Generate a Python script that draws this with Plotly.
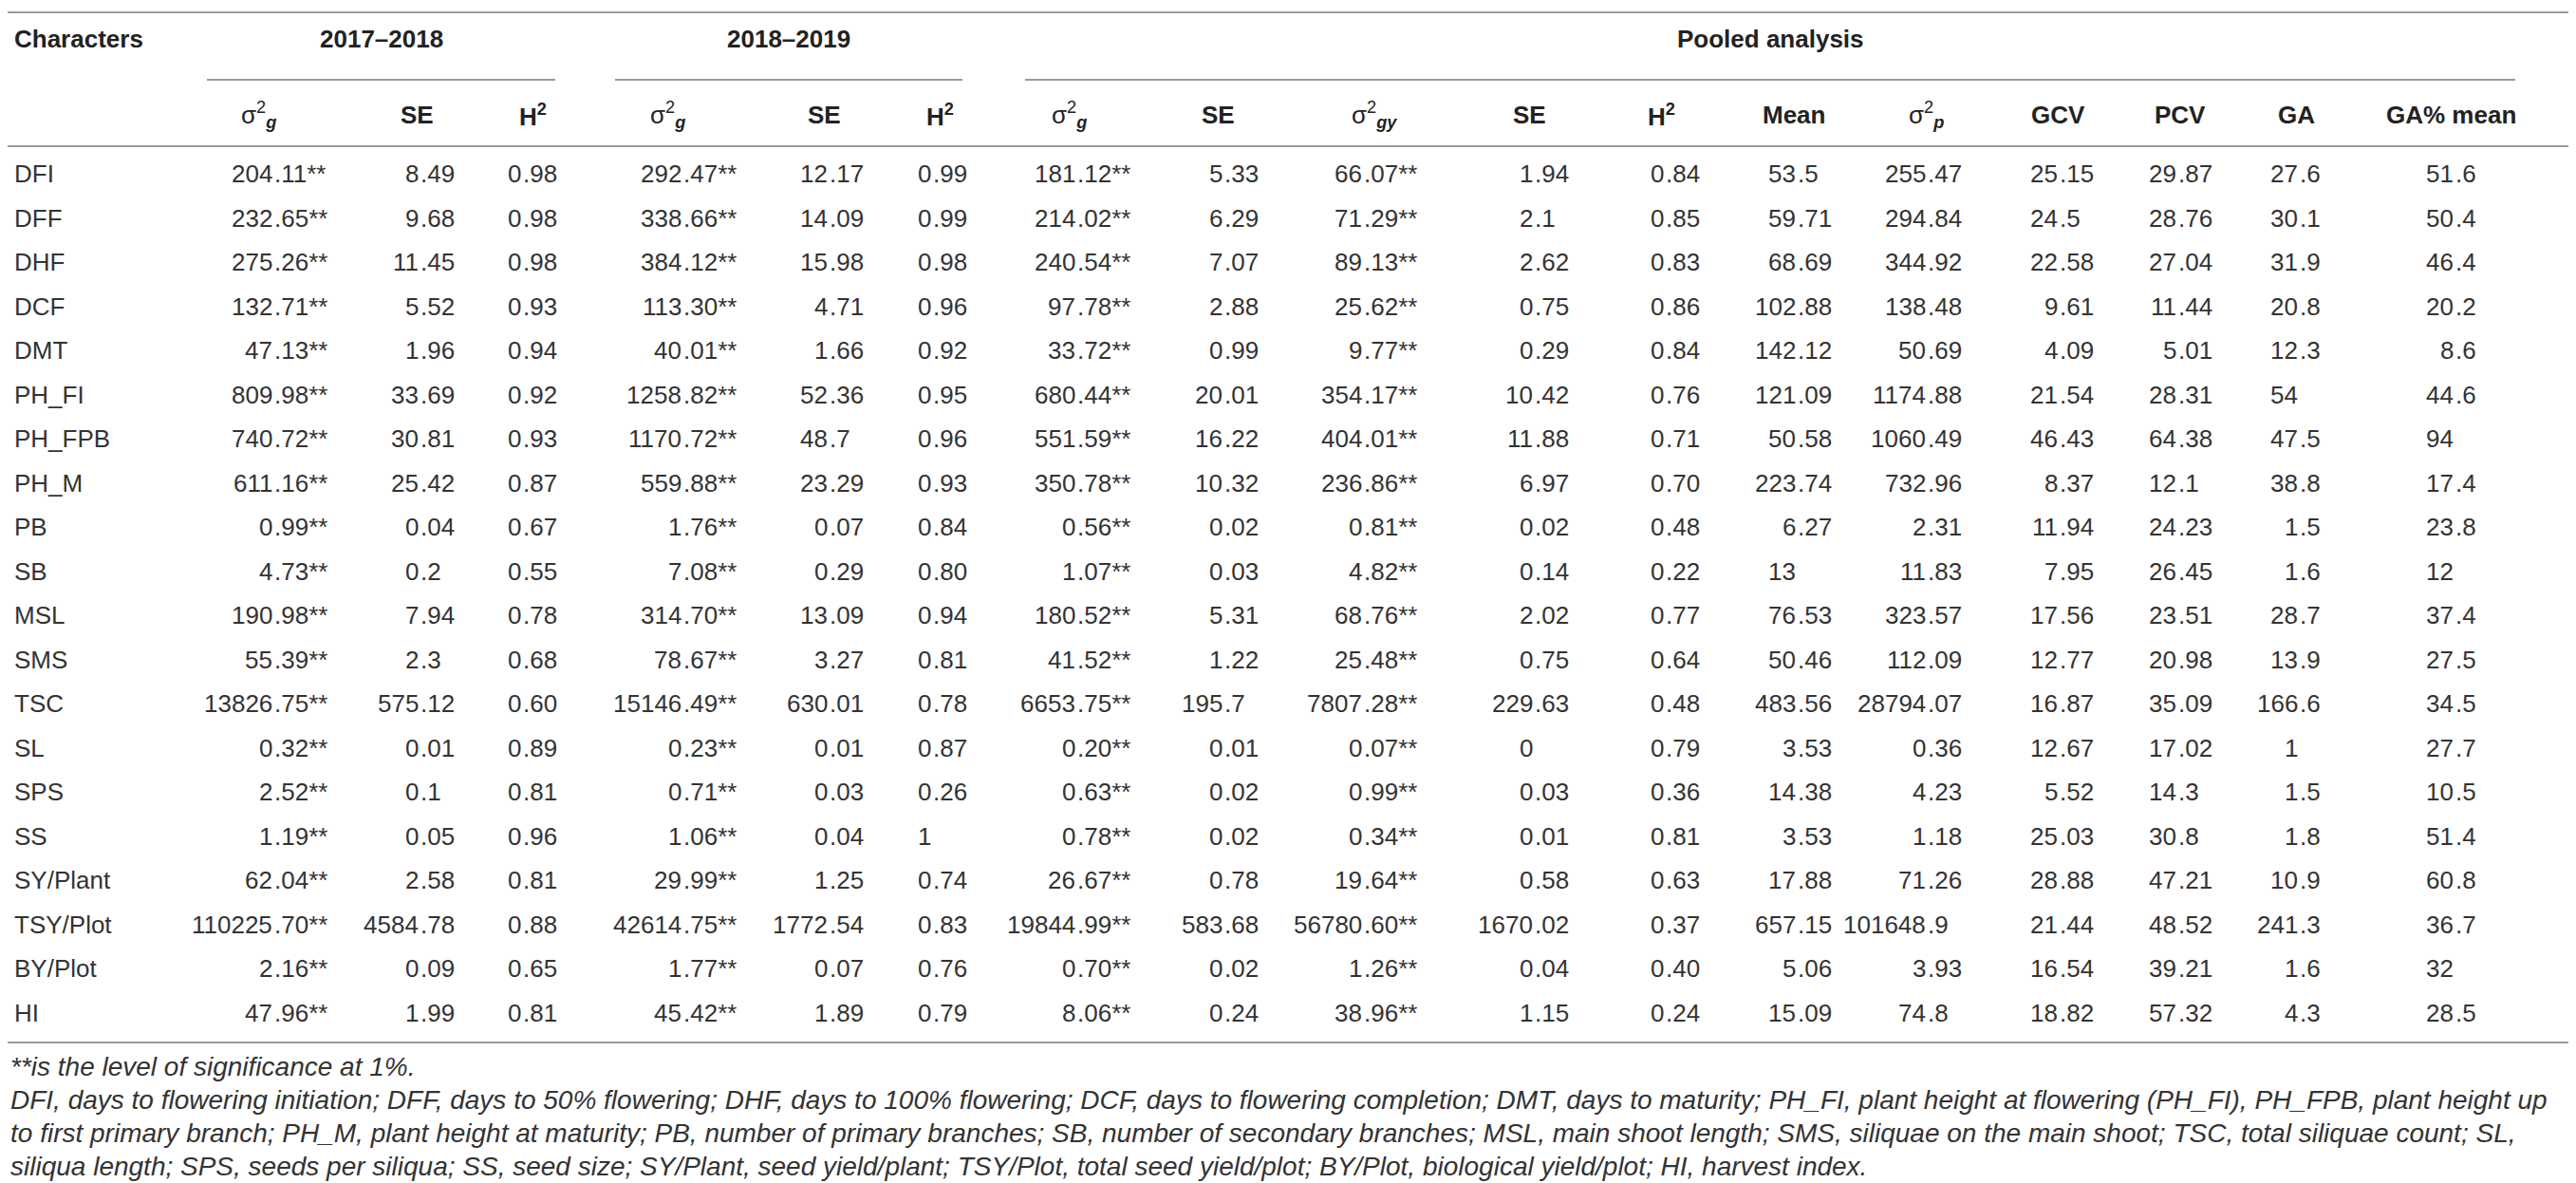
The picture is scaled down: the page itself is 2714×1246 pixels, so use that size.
import plotly.graph_objects as go

W, H = 2714, 1246
FONT = "Liberation Sans, Arial, Helvetica, sans-serif"
TXT = "#333333"
HEAD = "#222222"
RULE = "#9a9a9a"

# ---- data (as printed) ----
characters = ["DFI", "DFF", "DHF", "DCF", "DMT", "PH_FI", "PH_FPB", "PH_M", "PB", "SB",
              "MSL", "SMS", "TSC", "SL", "SPS", "SS", "SY/Plant", "TSY/Plot", "BY/Plot", "HI"]

g_1718 = ["204.11", "232.65", "275.26", "132.71", "47.13", "809.98", "740.72", "611.16", "0.99", "4.73",
          "190.98", "55.39", "13826.75", "0.32", "2.52", "1.19", "62.04", "110225.70", "2.16", "47.96"]
se_1718 = ["8.49", "9.68", "11.45", "5.52", "1.96", "33.69", "30.81", "25.42", "0.04", "0.2",
           "7.94", "2.3", "575.12", "0.01", "0.1", "0.05", "2.58", "4584.78", "0.09", "1.99"]
h2_1718 = ["0.98", "0.98", "0.98", "0.93", "0.94", "0.92", "0.93", "0.87", "0.67", "0.55",
           "0.78", "0.68", "0.60", "0.89", "0.81", "0.96", "0.81", "0.88", "0.65", "0.81"]

g_1819 = ["292.47", "338.66", "384.12", "113.30", "40.01", "1258.82", "1170.72", "559.88", "1.76", "7.08",
          "314.70", "78.67", "15146.49", "0.23", "0.71", "1.06", "29.99", "42614.75", "1.77", "45.42"]
se_1819 = ["12.17", "14.09", "15.98", "4.71", "1.66", "52.36", "48.7", "23.29", "0.07", "0.29",
           "13.09", "3.27", "630.01", "0.01", "0.03", "0.04", "1.25", "1772.54", "0.07", "1.89"]
h2_1819 = ["0.99", "0.99", "0.98", "0.96", "0.92", "0.95", "0.96", "0.93", "0.84", "0.80",
           "0.94", "0.81", "0.78", "0.87", "0.26", "1", "0.74", "0.83", "0.76", "0.79"]

g_pool = ["181.12", "214.02", "240.54", "97.78", "33.72", "680.44", "551.59", "350.78", "0.56", "1.07",
          "180.52", "41.52", "6653.75", "0.20", "0.63", "0.78", "26.67", "19844.99", "0.70", "8.06"]
se_g_pool = ["5.33", "6.29", "7.07", "2.88", "0.99", "20.01", "16.22", "10.32", "0.02", "0.03",
             "5.31", "1.22", "195.7", "0.01", "0.02", "0.02", "0.78", "583.68", "0.02", "0.24"]
gy_pool = ["66.07", "71.29", "89.13", "25.62", "9.77", "354.17", "404.01", "236.86", "0.81", "4.82",
           "68.76", "25.48", "7807.28", "0.07", "0.99", "0.34", "19.64", "56780.60", "1.26", "38.96"]
se_gy_pool = ["1.94", "2.1", "2.62", "0.75", "0.29", "10.42", "11.88", "6.97", "0.02", "0.14",
              "2.02", "0.75", "229.63", "0", "0.03", "0.01", "0.58", "1670.02", "0.04", "1.15"]
h2_pool = ["0.84", "0.85", "0.83", "0.86", "0.84", "0.76", "0.71", "0.70", "0.48", "0.22",
           "0.77", "0.64", "0.48", "0.79", "0.36", "0.81", "0.63", "0.37", "0.40", "0.24"]
mean_pool = ["53.5", "59.71", "68.69", "102.88", "142.12", "121.09", "50.58", "223.74", "6.27", "13",
             "76.53", "50.46", "483.56", "3.53", "14.38", "3.53", "17.88", "657.15", "5.06", "15.09"]
p_pool = ["255.47", "294.84", "344.92", "138.48", "50.69", "1174.88", "1060.49", "732.96", "2.31", "11.83",
          "323.57", "112.09", "28794.07", "0.36", "4.23", "1.18", "71.26", "101648.9", "3.93", "74.8"]
gcv = ["25.15", "24.5", "22.58", "9.61", "4.09", "21.54", "46.43", "8.37", "11.94", "7.95",
       "17.56", "12.77", "16.87", "12.67", "5.52", "25.03", "28.88", "21.44", "16.54", "18.82"]
pcv = ["29.87", "28.76", "27.04", "11.44", "5.01", "28.31", "64.38", "12.1", "24.23", "26.45",
       "23.51", "20.98", "35.09", "17.02", "14.3", "30.8", "47.21", "48.52", "39.21", "57.32"]
ga = ["27.6", "30.1", "31.9", "20.8", "12.3", "54", "47.5", "38.8", "1.5", "1.6",
      "28.7", "13.9", "166.6", "1", "1.5", "1.8", "10.9", "241.3", "1.6", "4.3"]
ga_pct = ["51.6", "50.4", "46.4", "20.2", "8.6", "44.6", "94", "17.4", "23.8", "12",
          "37.4", "27.5", "34.5", "27.7", "10.5", "51.4", "60.8", "36.7", "32", "28.5"]

sig_mark = "**"

col_headers = ["σ<sup>2</sup><sub><i><b>g</b></i></sub>", "<b>SE</b>", "<b>H<sup>2</sup></b>",
               "σ<sup>2</sup><sub><i><b>g</b></i></sub>", "<b>SE</b>", "<b>H<sup>2</sup></b>",
               "σ<sup>2</sup><sub><i><b>g</b></i></sub>", "<b>SE</b>",
               "σ<sup>2</sup><sub><i><b>gy</b></i></sub>", "<b>SE</b>", "<b>H<sup>2</sup></b>",
               "<b>Mean</b>", "σ<sup>2</sup><sub><i><b>p</b></i></sub>", "<b>GCV</b>", "<b>PCV</b>",
               "<b>GA</b>", "<b>GA% mean</b>"]
groups = ["2017–2018", "2018–2019", "Pooled analysis"]

footnotes = [
    "**is the level of significance at 1%.",
    "DFI, days to flowering initiation; DFF, days to 50% flowering; DHF, days to 100% flowering; DCF, days to flowering completion; DMT, days to maturity; PH_FI, plant height at flowering (PH_FI), PH_FPB, plant height up",
    "to first primary branch; PH_M, plant height at maturity; PB, number of primary branches; SB, number of secondary branches; MSL, main shoot length; SMS, siliquae on the main shoot; TSC, total siliquae count; SL,",
    "siliqua length; SPS, seeds per siliqua; SS, seed size; SY/Plant, seed yield/plant; TSY/Plot, total seed yield/plot; BY/Plot, biological yield/plot; HI, harvest index.",
]

# ---- layout of the table ----
columns = [g_1718, se_1718, h2_1718, g_1819, se_1819, h2_1819,
           g_pool, se_g_pool, gy_pool, se_gy_pool, h2_pool,
           mean_pool, p_pool, gcv, pcv, ga, ga_pct]
significant = [True, False, False, True, False, False, True, False, True,
               False, False, False, False, False, False, False, False]
dec_x = [280, 434, 542, 711, 865, 974, 1126, 1281, 1428, 1608, 1746,
         1885, 2022, 2161, 2286, 2414, 2578]
head_x = [264, 431, 553, 695, 860, 982, 1118, 1275, 1440, 1603, 1742,
          1882, 2021, 2160, 2289, 2411, 2574]
group_span = [(210, 577), (640, 1006), (1072, 2642)]

y_top, y_group, y_sub, y_head, y_headrule = 5, 33, 76, 113, 146
row0, row_step = 175, 46.5
y_bottom = 1090
foot_y = [1115, 1150, 1185, 1220]

fs = 26
ann = []


def txt(x, y, s, anchor, size=fs, color=TXT, italic=False):
    ann.append(dict(x=x, y=y, xref="x", yref="y", text=s, showarrow=False,
                    xanchor=anchor, yanchor="middle", borderpad=0,
                    font=dict(family=FONT, size=size, color=color,
                              style="italic" if italic else "normal")))


row_y = [row0 + row_step * i for i in range(len(characters))]

# header
txt(6, y_group, "<b>Characters</b>", "left", color=HEAD)
for g, (a, b) in zip(groups, group_span):
    txt((a + b) / 2, y_group, "<b>" + g + "</b>", "center", color=HEAD)
for h, x in zip(col_headers, head_x):
    txt(x, y_head, h, "center", color=HEAD)

# body, decimal-aligned
for name, y in zip(characters, row_y):
    txt(6, y, name, "left")
for vals, sig, x in zip(columns, significant, dec_x):
    suffix = sig_mark if sig else ""
    for v, y in zip(vals, row_y):
        if "." in v:
            ip, fp = v.split(".")
            txt(x, y, ip, "right")
            txt(x, y, "." + fp + suffix, "left")
        else:
            txt(x, y, v, "right")
            if suffix:
                txt(x, y, suffix, "left")

# footnotes
for line, y in zip(footnotes, foot_y):
    txt(2, y, line, "left", size=28, italic=True)

# rules
shapes = []
for y in (y_top, y_headrule, y_bottom):
    shapes.append(dict(type="line", xref="x", yref="y", x0=0, x1=W - 4, y0=y, y1=y,
                       line=dict(color=RULE, width=2)))
for a, b in group_span:
    shapes.append(dict(type="line", xref="x", yref="y", x0=a, x1=b, y0=y_sub, y1=y_sub,
                       line=dict(color=RULE, width=2)))

fig = go.Figure()
fig.update_layout(width=W, height=H, margin=dict(l=0, r=0, t=0, b=0),
                  paper_bgcolor="white", plot_bgcolor="white", showlegend=False,
                  xaxis=dict(range=[0, W], visible=False, fixedrange=True),
                  yaxis=dict(range=[H, 0], visible=False, fixedrange=True),
                  annotations=ann, shapes=shapes)

fig.write_html("out.html")
